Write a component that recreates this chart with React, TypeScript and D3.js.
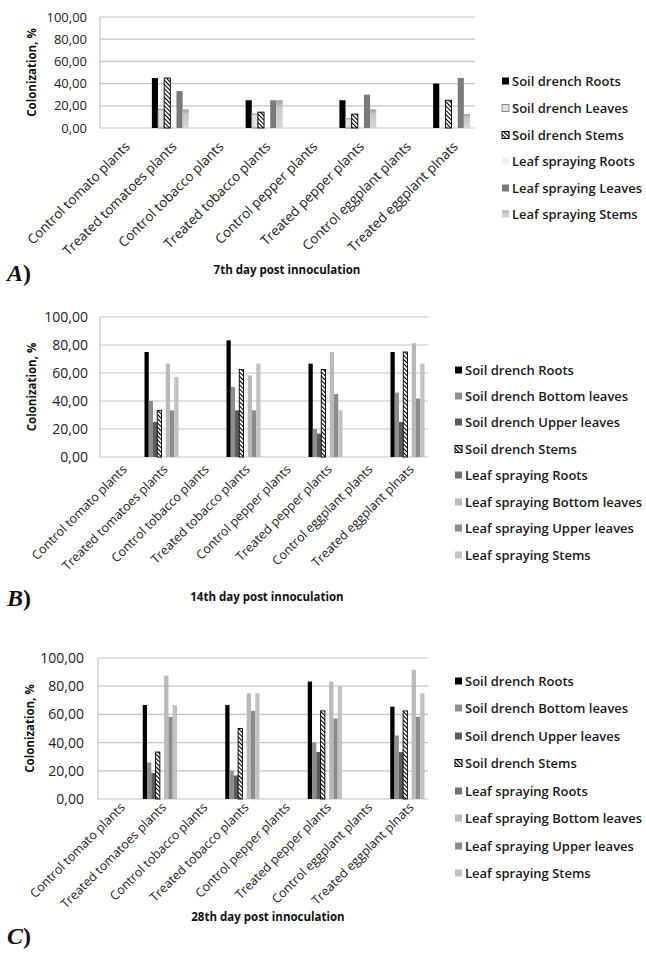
import * as d3 from "d3";

// categories shared by all three panels
const categories = [
  "Control tomato plants",
  "Treated tomatoes plants",
  "Control tobacco plants",
  "Treated tobacco plants",
  "Control pepper plants",
  "Treated pepper plants",
  "Control eggplant plants",
  "Treated eggplant plnats",
];

const yTicks = [0, 20, 40, 60, 80, 100];
const yTickLabels = ["0,00", "20,00", "40,00", "60,00", "80,00", "100,00"];

// A) 7th day
const seriesA = [
  "Soil drench Roots",
  "Soil drench Leaves",
  "Soil drench Stems",
  "Leaf spraying Roots",
  "Leaf spraying Leaves",
  "Leaf spraying Stems",
];
const d7SoilRoots = [0, 45, 0, 25, 0, 25, 0, 40];
const d7SoilLeaves = [0, 16.7, 0, 12.5, 0, 8.3, 0, 0];
const d7SoilStems = [0, 45, 0, 14.3, 0, 12.5, 0, 25];
const d7LeafRoots = [0, 0, 0, 0, 0, 0, 0, 0];
const d7LeafLeaves = [0, 33.3, 0, 25, 0, 30, 0, 45];
const d7LeafStems = [0, 16.7, 0, 25, 0, 16.7, 0, 12.5];

// B) 14th day and C) 28th day
const seriesBC = [
  "Soil drench Roots",
  "Soil drench Bottom leaves",
  "Soil drench Upper leaves",
  "Soil drench Stems",
  "Leaf spraying Roots",
  "Leaf spraying Bottom leaves",
  "Leaf spraying Upper leaves",
  "Leaf spraying Stems",
];
const d14SoilRoots = [0, 75, 0, 83.3, 0, 66.7, 0, 75];
const d14SoilBottom = [0, 40, 0, 50, 0, 20, 0, 46];
const d14SoilUpper = [0, 25, 0, 33.3, 0, 16.7, 0, 25];
const d14SoilStems = [0, 33.3, 0, 62.5, 0, 62.5, 0, 75];
const d14LeafRoots = [0, 0, 0, 0, 0, 0, 0, 0];
const d14LeafBottom = [0, 66.7, 0, 58.3, 0, 75, 0, 81.3];
const d14LeafUpper = [0, 33.3, 0, 33.3, 0, 45, 0, 41.7];
const d14LeafStems = [0, 57.1, 0, 66.7, 0, 33.3, 0, 66.7];

const d28SoilRoots = [0, 66.7, 0, 66.7, 0, 83.3, 0, 65.5];
const d28SoilBottom = [0, 25.9, 0, 20, 0, 40, 0, 45];
const d28SoilUpper = [0, 18.5, 0, 16.7, 0, 33.3, 0, 33.3];
const d28SoilStems = [0, 33.3, 0, 50, 0, 62.5, 0, 62.5];
const d28LeafRoots = [0, 0, 0, 0, 0, 0, 0, 0];
const d28LeafBottom = [0, 87.5, 0, 75, 0, 83.3, 0, 91.7];
const d28LeafUpper = [0, 58.3, 0, 62.5, 0, 57.1, 0, 58.3];
const d28LeafStems = [0, 66.7, 0, 75, 0, 80, 0, 75];

type Sty = { fill: string; stroke?: string };

const stylesA: Sty[] = [
  { fill: "#000" },
  { fill: "#e2e2e2", stroke: "#8a8a8a" },
  { fill: "url(#hatch)", stroke: "#000" },
  { fill: "#efefef" },
  { fill: "#7a7a7a" },
  { fill: "url(#stemGrad)" },
];
const stylesBC: Sty[] = [
  { fill: "#000" },
  { fill: "#8e8e8e" },
  { fill: "#5c5c5c" },
  { fill: "url(#hatch)", stroke: "#000" },
  { fill: "#707070" },
  { fill: "#b9b9b9" },
  { fill: "#8c8c8c" },
  { fill: "#c2c2c2" },
];

const panels = [
  {
    letter: "A",
    title: "7th day post innoculation",
    series: seriesA,
    values: [d7SoilRoots, d7SoilLeaves, d7SoilStems, d7LeafRoots, d7LeafLeaves, d7LeafStems],
    styles: stylesA,
    left: 100, right: 475, top: 17, bottom: 128, pad: 5,
    tickSize: 13, tickX: 87, labelOff: 16, labelSize: 13.5,
    legendX: 502, legendRows: [81, 108, 135, 161, 188, 214],
    titleX: 287, titleY: 274, letterY: 281,
  },
  {
    letter: "B",
    title: "14th day post innoculation",
    series: seriesBC,
    values: [d14SoilRoots, d14SoilBottom, d14SoilUpper, d14SoilStems, d14LeafRoots, d14LeafBottom, d14LeafUpper, d14LeafStems],
    styles: stylesBC,
    left: 100, right: 428, top: 317, bottom: 457, pad: 3.5,
    tickSize: 14, tickX: 88, labelOff: 10, labelSize: 12.5,
    legendX: 455, legendRows: [370, 396, 422, 449, 475, 502, 528, 555],
    titleX: 267, titleY: 601, letterY: 606,
  },
  {
    letter: "C",
    title: "28th day post innoculation",
    series: seriesBC,
    values: [d28SoilRoots, d28SoilBottom, d28SoilUpper, d28SoilStems, d28LeafRoots, d28LeafBottom, d28LeafUpper, d28LeafStems],
    styles: stylesBC,
    left: 98, right: 428, top: 658, bottom: 799, pad: 3.5,
    tickSize: 14, tickX: 84, labelOff: 6, labelSize: 12.5,
    legendX: 455, legendRows: [681, 708, 736, 763, 791, 818, 846, 873],
    titleX: 268, titleY: 921, letterY: 944,
  },
];

const font = "'Open Sans', sans-serif";

function Panel({ p }: { p: (typeof panels)[number] }) {
  const x0 = d3.scaleBand<string>().domain(categories).range([p.left, p.right]);
  const x1 = d3
    .scaleBand<number>()
    .domain(d3.range(p.series.length))
    .range([p.pad, x0.bandwidth() - p.pad]);
  const y = d3.scaleLinear().domain([0, 100]).range([p.bottom, p.top]);

  return (
    <g>
      {yTicks.map((t, i) => (
        <g key={t}>
          <line x1={p.left} x2={p.right} y1={y(t)} y2={y(t)} stroke="#c4c4c4" strokeWidth={1.2} />
          <text x={p.tickX} y={y(t)} dy="0.35em" textAnchor="end" fontSize={p.tickSize} fill="#222" fontFamily={font}>
            {yTickLabels[i]}
          </text>
        </g>
      ))}
      <line x1={p.left} x2={p.left} y1={y(0)} y2={y(100)} stroke="#c4c4c4" strokeWidth={1.2} />
      <text
        transform={`translate(${p.left - 68},${(p.top + p.bottom) / 2}) rotate(-90)`}
        textAnchor="middle"
        dy="0.35em"
        fontSize={11.5}
        fontWeight="bold"
        fontFamily={font}
        fill="#111"
      >
        Colonization, %
      </text>

      {categories.map((c, ci) => (
        <g key={c} transform={`translate(${x0(c)},0)`}>
          {p.values.map((vals, si) =>
            vals[ci] > 0 ? (
              <rect
                key={si}
                x={x1(si)}
                y={y(vals[ci])}
                width={x1.bandwidth()}
                height={y(0) - y(vals[ci])}
                fill={p.styles[si].fill}
                stroke={p.styles[si].stroke ?? "none"}
                strokeWidth={p.styles[si].stroke ? 0.9 : 0}
              />
            ) : null
          )}
        </g>
      ))}

      {categories.map((c) => {
        const cx = (x0(c) ?? 0) + x0.bandwidth() / 2 + 4;
        const cy = p.bottom + p.labelOff;
        return (
          <text
            key={c}
            transform={`translate(${cx},${cy}) rotate(-45)`}
            textAnchor="end"
            dy="0.35em"
            fontSize={p.labelSize}
            fontFamily={font}
            fill="#222"
          >
            {c}
          </text>
        );
      })}

      {p.series.map((s, si) => (
        <g key={s} transform={`translate(${p.legendX},${p.legendRows[si]})`}>
          <rect
            x={0}
            y={-3.5}
            width={7}
            height={7}
            fill={p.styles[si].fill}
            stroke={p.styles[si].stroke ?? "none"}
            strokeWidth={p.styles[si].stroke ? 1 : 0}
          />
          <text x={10} dy="0.35em" fontSize={13} fontFamily={font} fill="#1a1a1a" fontWeight={600}>
            {s}
          </text>
        </g>
      ))}

      <text x={p.titleX} y={p.titleY} textAnchor="middle" fontSize={11.5} fontWeight="bold" fontFamily={font} fill="#111">
        {p.title}
      </text>
      <text x={7} y={p.letterY} fontSize={24} fontWeight="bold" fontFamily="'Liberation Serif', serif" fill="#111">
        <tspan fontStyle="italic">{p.letter}</tspan>
        <tspan>)</tspan>
      </text>
    </g>
  );
}

export default function App() {
  return (
    <svg
      width={646}
      height={957}
      style={{ position: "absolute", left: 0, top: 0, background: "#fff" }}
    >
      <defs>
        <pattern id="hatch" patternUnits="userSpaceOnUse" width={3} height={3} patternTransform="rotate(-45)">
          <rect width={3} height={3} fill="#fff" />
          <line x1={0} y1={0} x2={0} y2={3} stroke="#000" strokeWidth={2.2} />
        </pattern>
        <linearGradient id="stemGrad" x1="0" y1="0" x2="0" y2="1">
          <stop offset="0" stopColor="#9a9a9a" />
          <stop offset="0.25" stopColor="#c8c8c8" />
          <stop offset="1" stopColor="#d6d6d6" />
        </linearGradient>
      </defs>
      <rect width={646} height={957} fill="#fff" />
      {panels.map((p) => (
        <Panel key={p.letter} p={p} />
      ))}
    </svg>
  );
}
